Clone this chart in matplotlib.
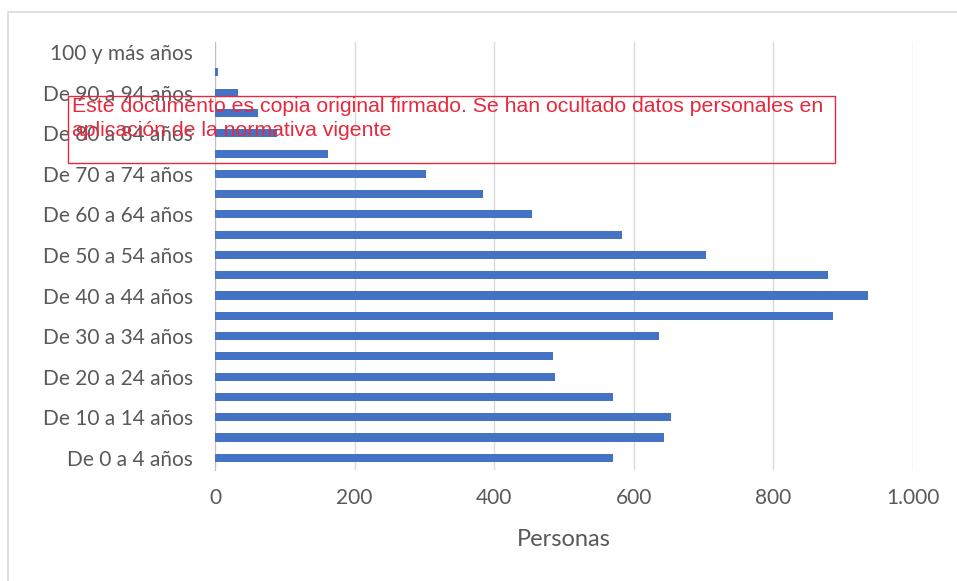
import matplotlib.pyplot as plt
from matplotlib.patches import Rectangle
from matplotlib.ticker import FuncFormatter

# grupos de edad (de abajo arriba) y personas en cada uno
grupos = ['De 0 a 4 años', 'De 5 a 9 años', 'De 10 a 14 años', 'De 15 a 19 años',
          'De 20 a 24 años', 'De 25 a 29 años', 'De 30 a 34 años', 'De 35 a 39 años',
          'De 40 a 44 años', 'De 45 a 49 años', 'De 50 a 54 años', 'De 55 a 59 años',
          'De 60 a 64 años', 'De 65 a 69 años', 'De 70 a 74 años', 'De 75 a 79 años',
          'De 80 a 84 años', 'De 85 a 89 años', 'De 90 a 94 años', 'De 95 a 99 años',
          '100 y más años']
personas = [570, 643, 653, 570, 487, 484, 636, 886, 935, 878, 703, 583,
            454, 384, 302, 162, 89, 62, 33, 4, 0]
xticks = [0, 200, 400, 600, 800, 1000]

gris = '#595959'
plt.rcParams['font.family'] = ['Lato', 'DejaVu Sans']

fig = plt.figure(figsize=(9.57, 5.81), dpi=100)
ax = fig.add_axes([215 / 957, 1 - 470 / 581, (913 - 215) / 957, (470 - 42) / 581])

pos = list(range(len(grupos)))
ax.barh(pos, personas, height=0.4, color='#4472C4', zorder=3)

ax.set_xlim(0, 1000)
ax.set_ylim(-0.6, len(grupos) - 0.5)
ax.set_xticks(xticks)
ax.xaxis.set_major_formatter(FuncFormatter(lambda v, p: f'{int(v):,}'.replace(',', '.')))
ax.set_yticks(pos[::2])
ax.set_yticklabels(grupos[::2])
ax.tick_params(axis='both', length=0, labelsize=15, labelcolor=gris)
ax.tick_params(axis='y', pad=16)
ax.tick_params(axis='x', pad=13)
ax.grid(axis='x', color='#d9d9d9', linewidth=1, zorder=0)
for s in ['top', 'right', 'bottom']:
    ax.spines[s].set_visible(False)
ax.spines['left'].set_color('#bfbfbf')
ax.set_xlabel('Personas', fontsize=17, color=gris, labelpad=15)

# marco del gráfico
fig.add_artist(Rectangle((8 / 957, -0.01), 1.1, 1 - 12 / 581 + 0.01,
                         transform=fig.transFigure, fill=False,
                         edgecolor='#d9d9d9', linewidth=1.2))

# sello de copia
fig.add_artist(Rectangle((68 / 957, 1 - 163 / 581), (835 - 68) / 957, (163 - 96) / 581,
                         transform=fig.transFigure, fill=False,
                         edgecolor='#e8283c', linewidth=1, zorder=10))
fig.text(72 / 957, 1 - 97 / 581,
         'Este documento es copia original firmado. Se han ocultado datos personales en\n'
         'aplicación de la normativa vigente',
         fontsize=15.3, color='#e8283c', family=['Liberation Sans', 'DejaVu Sans'],
         va='top', ha='left', linespacing=1.3, zorder=11)

fig.savefig('out.png', dpi=100)
